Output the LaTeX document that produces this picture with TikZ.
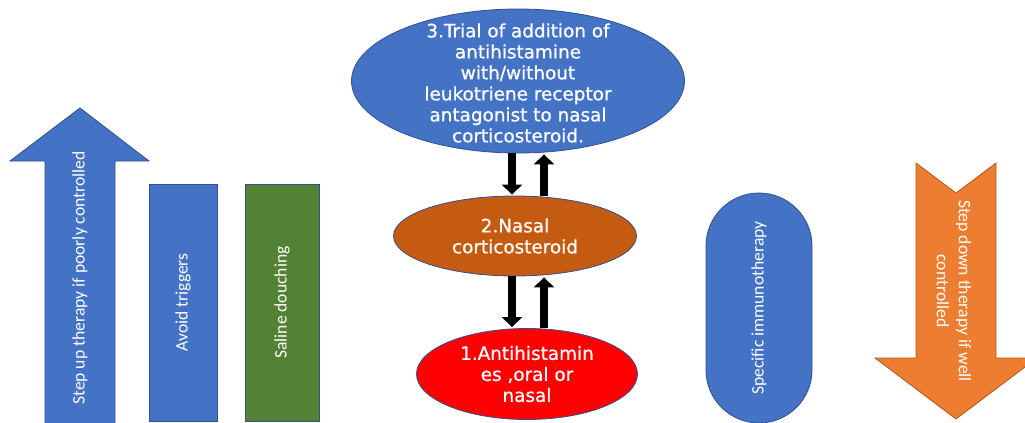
\documentclass[tikz,border=0pt]{standalone}
\usepackage{fontspec}
\setmainfont{DejaVu Sans}
\newfontfamily\calib{Carlito}
\newfontfamily\stagefont[FakeBold=0.8]{DejaVu Sans}
\usetikzlibrary{shapes.geometric,arrows.meta}
\definecolor{ppblue}{HTML}{4472C4}
\definecolor{ppedge}{HTML}{2F528F}
\definecolor{ppgreen}{HTML}{548235}
\definecolor{ppbrown}{HTML}{C55A11}
\definecolor{pporange}{HTML}{ED7D31}
\definecolor{ppoedge}{HTML}{AE5A21}

\tikzset{
  stage/.style={ellipse, draw=ppedge, line width=0.4pt, inner sep=0pt},
  stagetext/.style={align=center, text=white, inner sep=0pt,
    font=\stagefont\fontsize{9.2}{10.5}\selectfont},
  bar/.style={rectangle, draw=ppedge, line width=0.4pt, inner sep=0pt, rotate=90,
    text=white, font=\calib\fontsize{8.8}{11}\selectfont},
  label/.style={text=white, align=center, font=\calib\fontsize{8.8}{11}\selectfont},
  link/.style={line width=3.6pt, black, -{Triangle[width=10pt,length=5pt]}, shorten >=0.5pt}
}

\begin{document}
\begin{tikzpicture}[x=0.5pt,y=-0.5pt]
\useasboundingbox (0,0) rectangle (1025,423);

% step up arrow
\fill[ppblue, draw=ppedge, line width=0.4pt]
  (45,423) -- (45,161) -- (10,161) -- (80,108) -- (149,161) -- (115,161) -- (115,423);
\node[label, rotate=90] (up) at (80,278) {Step up therapy if poorly controlled};

% measures
\node[bar, fill=ppblue, minimum width=118.5pt, minimum height=34pt] (avoid) at (183,302.5) {Avoid triggers};
\node[bar, fill=ppgreen, minimum width=118.5pt, minimum height=37pt] (saline) at (282,302.5) {Saline douching};

% stages
\node[stage, fill=ppblue, minimum width=166.5pt, minimum height=72pt] (e3) at (518,81) {};
\node[stagetext] (t3) at (518,83)
  {3.Trial of addition of\\antihistamine\\with/without\\leukotriene receptor\\antagonist to nasal\\corticosteroid.};
\node[stage, fill=ppbrown, minimum width=121.5pt, minimum height=40pt] (e2) at (515,236) {};
\node[stagetext] (t2) at (515,236) {2.Nasal\\corticosteroid};
\node[stage, fill=red, minimum width=110.5pt, minimum height=45.5pt] (e1) at (527,374) {};
\node[stagetext] (t1) at (527,374) {1.Antihistamin\\es ,oral or\\nasal};

\draw[link] ([xshift=-1.5pt]e2.north |- e3.south) -- ([xshift=-1.5pt]e2.north);
\draw[link] ([xshift=14.5pt]e2.north) -- ([xshift=14.5pt]e2.north |- e3.south);
\draw[link] ([xshift=-1.5pt]e2.south) -- ([xshift=-1.5pt]e2.south |- e1.north);
\draw[link] ([xshift=14.5pt]e2.south |- e1.north) -- ([xshift=14.5pt]e2.south);

% immunotherapy
\node[bar, fill=ppblue, rounded corners=26.5pt, minimum width=115pt, minimum height=53pt] (immuno) at (759,308) {Specific immunotherapy};

% step down arrow
\fill[pporange, draw=ppoedge, line width=0.4pt]
  (916,163) -- (956,193) -- (996,163) -- (996,358) -- (1037,358) -- (956,419) -- (875,358) -- (916,358) -- cycle;
\node[label, rotate=-90] (down) at (954,291) {Step down therapy if well\\controlled};
\end{tikzpicture}
\end{document}
